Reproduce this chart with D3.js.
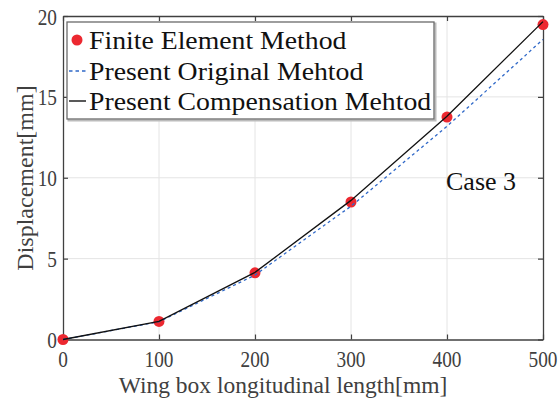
<!DOCTYPE html>
<html>
<head>
<meta charset="utf-8">
<script src="https://cdn.jsdelivr.net/npm/d3@7"></script>
<style>
  html, body { margin: 0; padding: 0; background: #fff; }
  svg { display: block; }
  text { font-family: "Liberation Serif", "Times New Roman", serif; }
</style>
</head>
<body>
<svg id="chart" width="560" height="403"></svg>
<script>
// Wing box displacement along its length, Case 3
const lengths = [0, 100, 200, 300, 400, 500];
const femValues = [0, 1.12, 4.12, 8.5, 13.75, 19.47];
const originalValues = [0, 1.1, 3.98, 8.24, 13.18, 18.55];
const compensationValues = [0, 1.12, 4.15, 8.6, 13.8, 19.65];
const xTicks = [0, 100, 200, 300, 400, 500];
const yTicks = [0, 5, 10, 15, 20];
const legendLabels = ["Finite Element Method", "Present Original Mehtod", "Present Compensation Mehtod"];
const caseLabel = "Case 3";
const xTitle = "Wing box longitudinal length[mm]";
const yTitle = "Displacement[mm]";

const svg = d3.select("#chart");
const plotLeft = 63, plotRight = 543, plotTop = 16, plotBottom = 339.5;

const x = d3.scaleLinear().domain([0, 500]).range([plotLeft, plotRight]);
const y = d3.scaleLinear().domain([0, 20]).range([plotBottom, plotTop]);

const axisColor = "#404040";
const tickLen = 5;

// grid
const grid = svg.append("g");
grid.selectAll("line.gx").data(xTicks.slice(1, -1)).join("line")
  .attr("x1", d => x(d)).attr("x2", d => x(d))
  .attr("y1", plotTop).attr("y2", plotBottom)
  .attr("stroke", "#e4e4e4").attr("stroke-width", 1);
grid.selectAll("line.gy").data(yTicks.slice(1, -1)).join("line")
  .attr("y1", d => y(d)).attr("y2", d => y(d))
  .attr("x1", plotLeft).attr("x2", plotRight)
  .attr("stroke", "#e4e4e4").attr("stroke-width", 1);

// axes with inward ticks on all four sides
const xAxisB = d3.axisBottom(x).tickValues(xTicks).tickSize(-tickLen).tickSizeOuter(0).tickFormat("");
const xAxisT = d3.axisTop(x).tickValues(xTicks).tickSize(-tickLen).tickSizeOuter(0).tickFormat("");
const yAxisL = d3.axisLeft(y).tickValues(yTicks).tickSize(-tickLen).tickSizeOuter(0).tickFormat("");
const yAxisR = d3.axisRight(y).tickValues(yTicks).tickSize(-tickLen).tickSizeOuter(0).tickFormat("");

function styleAxis(g) {
  g.selectAll("path").attr("stroke", axisColor).attr("stroke-width", 1.3);
  g.selectAll("line").attr("stroke", axisColor).attr("stroke-width", 1.2);
}
svg.append("g").attr("transform", `translate(0,${plotBottom})`).call(xAxisB).call(styleAxis);
svg.append("g").attr("transform", `translate(0,${plotTop})`).call(xAxisT).call(styleAxis);
svg.append("g").attr("transform", `translate(${plotLeft},0)`).call(yAxisL).call(styleAxis);
svg.append("g").attr("transform", `translate(${plotRight},0)`).call(yAxisR).call(styleAxis);

// tick labels
const tickFs = 23, tickSx = 0.84;
svg.append("g").selectAll("text").data(xTicks).join("text")
  .attr("transform", d => `translate(${x(d)},${plotBottom + 27.5}) scale(${tickSx},1)`)
  .attr("text-anchor", "middle")
  .attr("font-size", tickFs)
  .attr("fill", axisColor)
  .text(d => d);
svg.append("g").selectAll("text").data(yTicks).join("text")
  .attr("transform", d => `translate(${plotLeft - 6},${y(d) + 8.5}) scale(${tickSx},1)`)
  .attr("text-anchor", "end")
  .attr("font-size", tickFs)
  .attr("fill", axisColor)
  .text(d => d);

// axis titles
svg.append("text")
  .attr("x", 283).attr("y", 393)
  .attr("text-anchor", "middle")
  .attr("font-size", 23.5)
  .attr("fill", axisColor)
  .text(xTitle);
svg.append("text")
  .attr("transform", `translate(33,178) rotate(-90)`)
  .attr("text-anchor", "middle")
  .attr("font-size", 24)
  .attr("fill", axisColor)
  .text(yTitle);

// series
const pts = arr => lengths.map((l, i) => [l, arr[i]]);
const line = d3.line().x(d => x(d[0])).y(d => y(d[1]));

const red = "#ec2830";
svg.append("g").selectAll("circle").data(pts(femValues)).join("circle")
  .attr("cx", d => x(d[0])).attr("cy", d => y(d[1]))
  .attr("r", 5.5)
  .attr("fill", red);

svg.append("path").datum(pts(originalValues))
  .attr("d", line)
  .attr("fill", "none")
  .attr("stroke", "#2f68c8")
  .attr("stroke-width", 1.3)
  .attr("stroke-dasharray", "3,3");

svg.append("path").datum(pts(compensationValues))
  .attr("d", line)
  .attr("fill", "none")
  .attr("stroke", "#111")
  .attr("stroke-width", 1.3);

// case annotation
svg.append("text")
  .attr("x", 446).attr("y", 190)
  .attr("font-size", 26)
  .attr("fill", "#111")
  .text(caseLabel);

// legend
const lg = svg.append("g");
lg.append("rect")
  .attr("x", 68.5).attr("y", 23.5).attr("width", 367).attr("height", 97)
  .attr("fill", "none").attr("stroke", "#bbb").attr("stroke-width", 2);
lg.append("rect")
  .attr("x", 67).attr("y", 22).attr("width", 367).attr("height", 97)
  .attr("fill", "#fff").attr("stroke", "#6a6a6a").attr("stroke-width", 1.3);

const rowY = [40, 71, 101];
lg.append("circle").attr("cx", 77).attr("cy", rowY[0]).attr("r", 5.5).attr("fill", red);
lg.append("line").attr("x1", 69).attr("x2", 86).attr("y1", rowY[1]).attr("y2", rowY[1])
  .attr("stroke", "#2f68c8").attr("stroke-width", 1.3).attr("stroke-dasharray", "3.5,3");
lg.append("line").attr("x1", 69).attr("x2", 86).attr("y1", rowY[2]).attr("y2", rowY[2])
  .attr("stroke", "#222").attr("stroke-width", 1.5);

lg.selectAll("text").data(legendLabels).join("text")
  .attr("transform", (d, i) => `translate(89,${rowY[i] + 8.5}) scale(1.11,1)`)
  .attr("font-size", 25)
  .attr("fill", "#111")
  .text(d => d);
</script>
</body>
</html>
